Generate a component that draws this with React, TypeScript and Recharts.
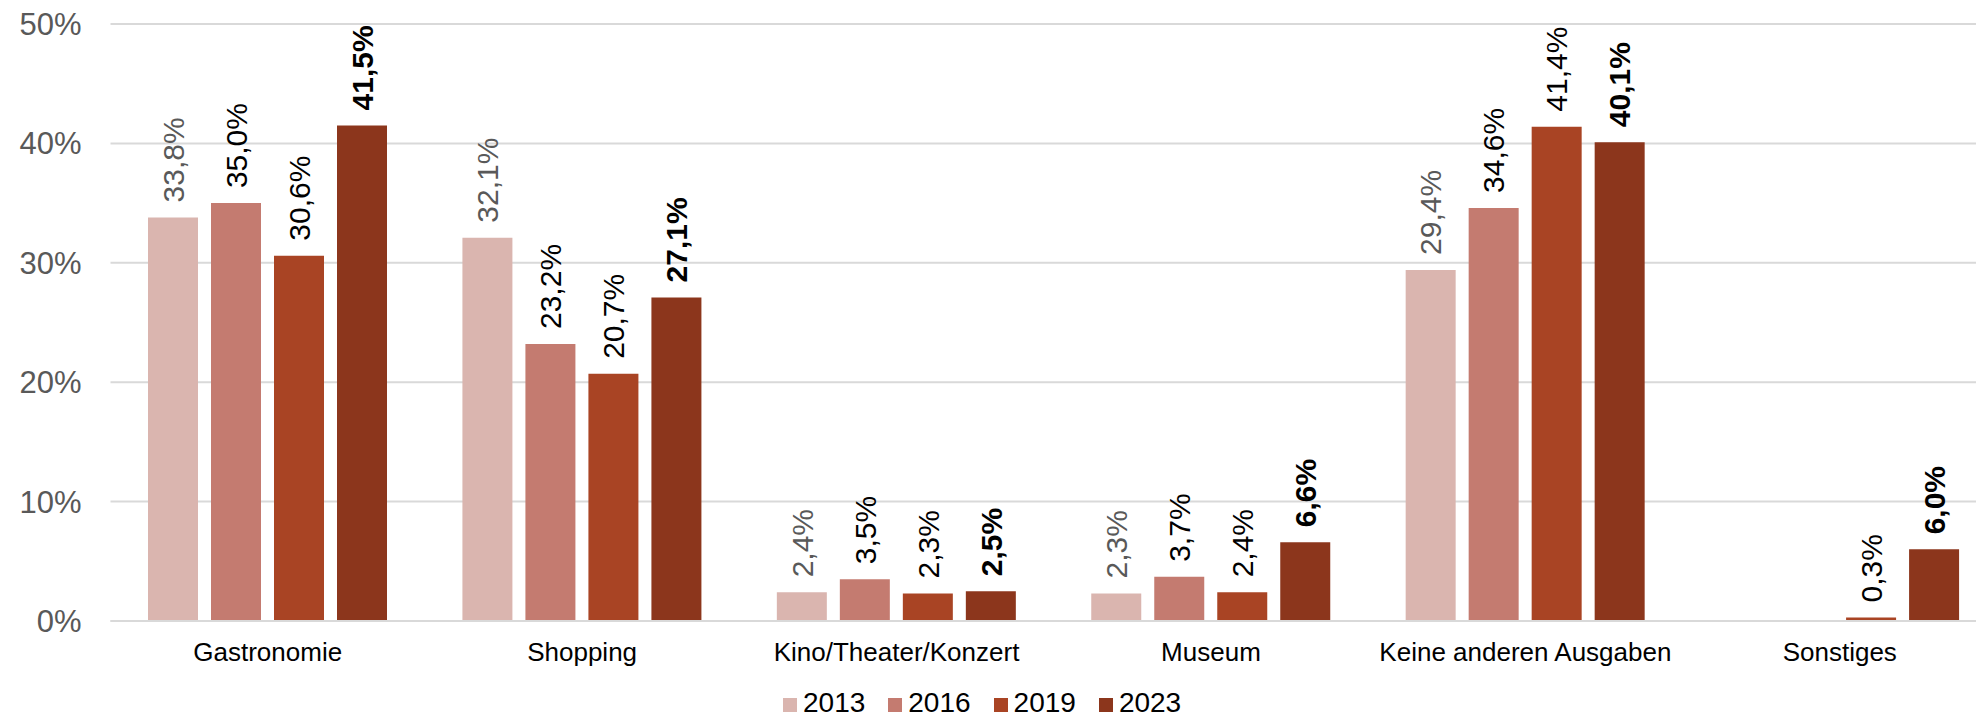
import { BarChart, Bar, XAxis, YAxis, CartesianGrid, Legend, LabelList } from 'recharts';

const categories = ['Gastronomie', 'Shopping', 'Kino/Theater/Konzert', 'Museum', 'Keine anderen Ausgaben', 'Sonstiges'];
const years = ['2013', '2016', '2019', '2023'];
const values2013 = [33.8, 32.1, 2.4, 2.3, 29.4, null];
const values2016 = [35.0, 23.2, 3.5, 3.7, 34.6, null];
const values2019 = [30.6, 20.7, 2.3, 2.4, 41.4, 0.3];
const values2023 = [41.5, 27.1, 2.5, 6.6, 40.1, 6.0];
const yTicks = [0, 10, 20, 30, 40, 50];

const colors = ['#DAB5AF', '#C47B70', '#A94424', '#8C361C'];
const labelColors = ['#595959', '#000000', '#000000', '#000000'];
const FONT = '"Liberation Sans", Arial, sans-serif';

const data = categories.map((name, i) => ({
  name,
  y2013: values2013[i],
  y2016: values2016[i],
  y2019: values2019[i],
  y2023: values2023[i],
}));

const fmt = (v: number) => `${v.toFixed(1).replace('.', ',')}%`;

function makeLabel(idx: number) {
  return (props: any) => {
    const { x, y, width, value } = props;
    if (value === null || value === undefined) return null;
    const cx = x + width / 2;
    const ty = y - 15;
    return (
      <text
        x={cx}
        y={ty}
        transform={`rotate(-90, ${cx}, ${ty})`}
        textAnchor="start"
        dy="0.36em"
        fontSize={30}
        fontFamily={FONT}
        fontWeight={idx === 3 ? 700 : 400}
        fill={labelColors[idx]}
      >
        {fmt(value)}
      </text>
    );
  };
}

function LegendContent() {
  return (
    <div style={{ display: 'flex', justifyContent: 'flex-start', alignItems: 'center', paddingLeft: 783, fontFamily: FONT }}>
      {years.map((yr, i) => (
        <div key={yr} style={{ display: 'flex', alignItems: 'center', marginRight: 23 }}>
          <div style={{ width: 14, height: 14, background: colors[i], marginRight: 6, marginTop: 4 }} />
          <span style={{ fontSize: 28, lineHeight: '30px', color: '#000' }}>{yr}</span>
        </div>
      ))}
    </div>
  );
}

export default function App() {
  return (
    <div style={{ position: 'absolute', top: 0, left: 0, width: 1976, height: 720, overflow: 'hidden', background: '#fff' }}>
      <BarChart
        width={2000}
        height={720}
        data={data}
        margin={{ top: 24, right: 3, left: 0, bottom: 69 }}
        barCategoryGap={37.5}
        barGap={13}
      >
        <CartesianGrid vertical={false} stroke="#D9D9D9" strokeWidth={2} />
        <XAxis
          dataKey="name"
          axisLine={{ stroke: '#D9D9D9', strokeWidth: 2 }}
          tickLine={false}
          tickSize={0}
          tickMargin={22}
          interval={0}
          tick={{ fontSize: 26, fill: '#000', fontFamily: FONT }}
        />
        <YAxis
          width={110.5}
          domain={[0, 50]}
          ticks={yTicks}
          axisLine={false}
          tickLine={false}
          tickSize={0}
          tickMargin={29}
          tickFormatter={(v: number) => `${v}%`}
          tick={{ fontSize: 31, fill: '#595959', fontFamily: FONT }}
        />
        <Legend
          layout="horizontal"
          align="center"
          verticalAlign="middle"
          wrapperStyle={{ top: 688, left: 0, width: 1976, height: 30 }}
          content={<LegendContent />}
        />
        {years.map((yr, i) => (
          <Bar key={yr} dataKey={`y${yr}`} name={yr} fill={colors[i]} isAnimationActive={false}>
            <LabelList dataKey={`y${yr}`} content={makeLabel(i)} />
          </Bar>
        ))}
      </BarChart>
    </div>
  );
}
